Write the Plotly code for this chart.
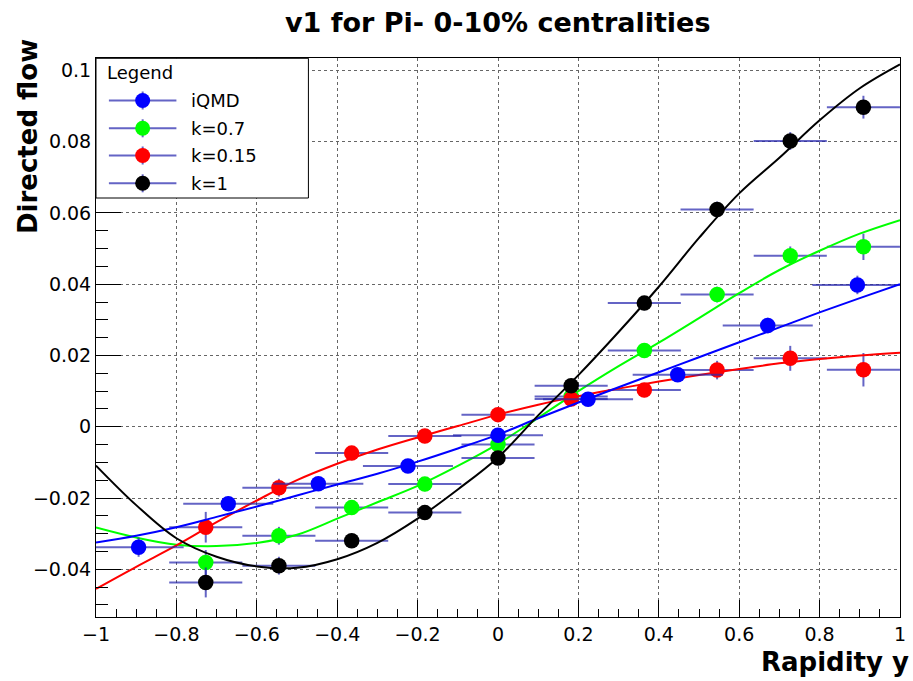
import plotly.graph_objects as go

# ---------------- data ----------------
x_iqmd = [-0.894, -0.671, -0.447, -0.224, 0.0, 0.224, 0.447, 0.671, 0.894]
v_iqmd = [-0.0338, -0.0216, -0.0160, -0.0110, -0.0024, 0.0077, 0.0146, 0.0284, 0.0398]
ex_iqmd = [0.112] * 9
ey_iqmd = [0.0027, 0.0020, 0.0018, 0.0018, 0.0018, 0.0018, 0.0020, 0.0022, 0.0026]

x_k = [-0.727, -0.545, -0.364, -0.182, 0.0, 0.182, 0.364, 0.545, 0.727, 0.909]
ex_k = [0.0909] * 10
v_k07 = [-0.0381, -0.0306, -0.0227, -0.0161, -0.0050, 0.0085, 0.0214, 0.0371, 0.0480, 0.0505]
ey_k07 = [0.0035, 0.0025, 0.0020, 0.0020, 0.0020, 0.0020, 0.0020, 0.0022, 0.0026, 0.0037]
v_k015 = [-0.0282, -0.0171, -0.0074, -0.0026, 0.0034, 0.0078, 0.0103, 0.0159, 0.0192, 0.0160]
ey_k015 = [0.0043, 0.0025, 0.0020, 0.0020, 0.0020, 0.0020, 0.0020, 0.0026, 0.0035, 0.0047]
v_k1 = [-0.0437, -0.0390, -0.0320, -0.0241, -0.0088, 0.0115, 0.0347, 0.0610, 0.0802, 0.0897]
ey_k1 = [0.0042, 0.0025, 0.0020, 0.0020, 0.0020, 0.0020, 0.0020, 0.0022, 0.0025, 0.0032]

# fit curves
x_fit = [-1.0, -0.9, -0.8, -0.7, -0.6, -0.5, -0.4, -0.3, -0.2, -0.1, 0.0,
         0.1, 0.2, 0.3, 0.4, 0.5, 0.6, 0.7, 0.8, 0.9, 1.0]
fit_iqmd = [-0.0325, -0.0306, -0.0282, -0.0253, -0.0224, -0.0193, -0.0162, -0.0132, -0.0098, -0.0061, -0.0022,
            0.0024, 0.0068, 0.0111, 0.0153, 0.0195, 0.0237, 0.0279, 0.0321, 0.0361, 0.0400]
fit_k07 = [-0.0283, -0.0311, -0.0331, -0.0335, -0.0326, -0.0303, -0.0258, -0.0212, -0.0166, -0.0110, -0.0048,
           0.0025, 0.0100, 0.0170, 0.0236, 0.0305, 0.0375, 0.0440, 0.0494, 0.0542, 0.0580]
fit_k015 = [-0.0455, -0.0393, -0.0333, -0.0268, -0.0207, -0.0150, -0.0104, -0.0064, -0.0030, 0.0002, 0.0034,
            0.0062, 0.0086, 0.0107, 0.0127, 0.0145, 0.0162, 0.0178, 0.0190, 0.0200, 0.0208]
fit_k1 = [-0.0109, -0.0220, -0.0313, -0.0365, -0.0392, -0.0396, -0.0372, -0.0326, -0.0258, -0.0176, -0.0086,
          0.0032, 0.0145, 0.0266, 0.0393, 0.0530, 0.0655, 0.0755, 0.0860, 0.0950, 0.1017]

names = ["iQMD", "k=0.7", "k=0.15", "k=1"]
colors = ["#0000ff", "#00ff00", "#ff0000", "#000000"]
x_ticks_range = [-1, 1]
y_range = [-0.0534, 0.1035]

# ---------------- style ----------------
ERR = "rgba(40,40,175,0.72)"
FONT = "DejaVu Sans"
W, H = 913, 681
L, R, T, B = 96, 7, 58, 64
PW, PH = W - L - R, H - T - B

def px(xp):
    return (xp - L) / PW

def py(yp):
    return (H - B - yp) / PH

fig = go.Figure()

series = {
    "iQMD": (x_iqmd, v_iqmd, ex_iqmd, ey_iqmd, fit_iqmd, colors[0]),
    "k=0.7": (x_k, v_k07, ex_k, ey_k07, fit_k07, colors[1]),
    "k=0.15": (x_k, v_k015, ex_k, ey_k015, fit_k015, colors[2]),
    "k=1": (x_k, v_k1, ex_k, ey_k1, fit_k1, colors[3]),
}

for nm in ["k=0.7", "k=0.15", "iQMD", "k=1"]:
    xs, vs, exs, eys, fit, col = series[nm]
    fig.add_trace(go.Scatter(
        x=xs, y=vs, mode="markers", name=nm, showlegend=False,
        marker=dict(color=col, size=15.5, line=dict(width=0)),
        error_x=dict(type="data", array=exs, color=ERR, thickness=2, width=0),
        error_y=dict(type="data", array=eys, color=ERR, thickness=2, width=0),
    ))
    fig.add_trace(go.Scatter(
        x=x_fit, y=fit, mode="lines", showlegend=False, hoverinfo="skip",
        line=dict(color=col, width=2, shape="spline", smoothing=1.0),
    ))

axis_common = dict(
    showline=True, mirror=True, linecolor="black", linewidth=1,
    ticks="inside", tickcolor="black", tickwidth=1,
    showgrid=True, gridcolor="#666666", griddash="dot", gridwidth=1,
    zeroline=False, tickfont=dict(family=FONT, size=19, color="black"),
)
fig.update_xaxes(range=x_ticks_range, dtick=0.2, tick0=-1, ticklen=17,
                 minor=dict(ticks="inside", ticklen=8, dtick=0.05, tick0=-1,
                            tickcolor="black", showgrid=False),
                 **axis_common)
fig.update_yaxes(range=y_range, dtick=0.02, tick0=0, ticklen=25,
                 minor=dict(ticks="inside", ticklen=12, dtick=0.005, tick0=0,
                            tickcolor="black", showgrid=False),
                 **axis_common)

# ---------------- legend drawn as a ROOT-style box ----------------
shapes = [dict(type="rect", xref="paper", yref="paper",
               x0=px(96), x1=px(310), y0=py(198), y1=py(58.3),
               line=dict(color="black", width=1), fillcolor="white", layer="above")]
annotations = [dict(text="Legend", xref="paper", yref="paper", x=px(105), y=py(72),
                    xanchor="left", yanchor="middle", showarrow=False,
                    font=dict(family=FONT, size=18, color="black"))]
leg_y = [100.5, 128.3, 155.5, 183.3]
for nm, col, yy in zip(names, colors, leg_y):
    shapes.append(dict(type="line", xref="paper", yref="paper",
                       x0=px(109), x1=px(177), y0=py(yy), y1=py(yy),
                       line=dict(color=ERR, width=2), layer="above"))
    shapes.append(dict(type="line", xref="paper", yref="paper",
                       x0=px(143), x1=px(143), y0=py(yy - 9), y1=py(yy + 9),
                       line=dict(color=ERR, width=2), layer="above"))
    shapes.append(dict(type="circle", xref="paper", yref="paper",
                       xsizemode="pixel", ysizemode="pixel",
                       xanchor=px(143), yanchor=py(yy),
                       x0=-7.5, x1=7.5, y0=-7.5, y1=7.5,
                       line=dict(width=0), fillcolor=col, layer="above"))
    annotations.append(dict(text=nm, xref="paper", yref="paper", x=px(190), y=py(yy),
                            xanchor="left", yanchor="middle", showarrow=False,
                            font=dict(family=FONT, size=18, color="black")))

annotations += [
    dict(text="<b>v1 for Pi- 0-10% centralities</b>", xref="paper", yref="paper",
         x=px(501), y=py(22), xanchor="center", yanchor="middle", showarrow=False,
         font=dict(family=FONT, size=27, color="black")),
    dict(text="<b>Rapidity y</b>", xref="paper", yref="paper",
         x=px(917), y=py(662), xanchor="right", yanchor="middle", showarrow=False,
         font=dict(family=FONT, size=26, color="black")),
    dict(text="<b>Directed flow</b>", xref="paper", yref="paper",
         x=px(27), y=py(37), xanchor="center", yanchor="top", showarrow=False,
         textangle=-90, font=dict(family=FONT, size=26, color="black")),
]

fig.update_layout(
    width=W, height=H,
    margin=dict(l=L, r=R, t=T, b=B),
    paper_bgcolor="white", plot_bgcolor="white",
    shapes=shapes, annotations=annotations,
    showlegend=False,
)

fig.write_html("out.html")
